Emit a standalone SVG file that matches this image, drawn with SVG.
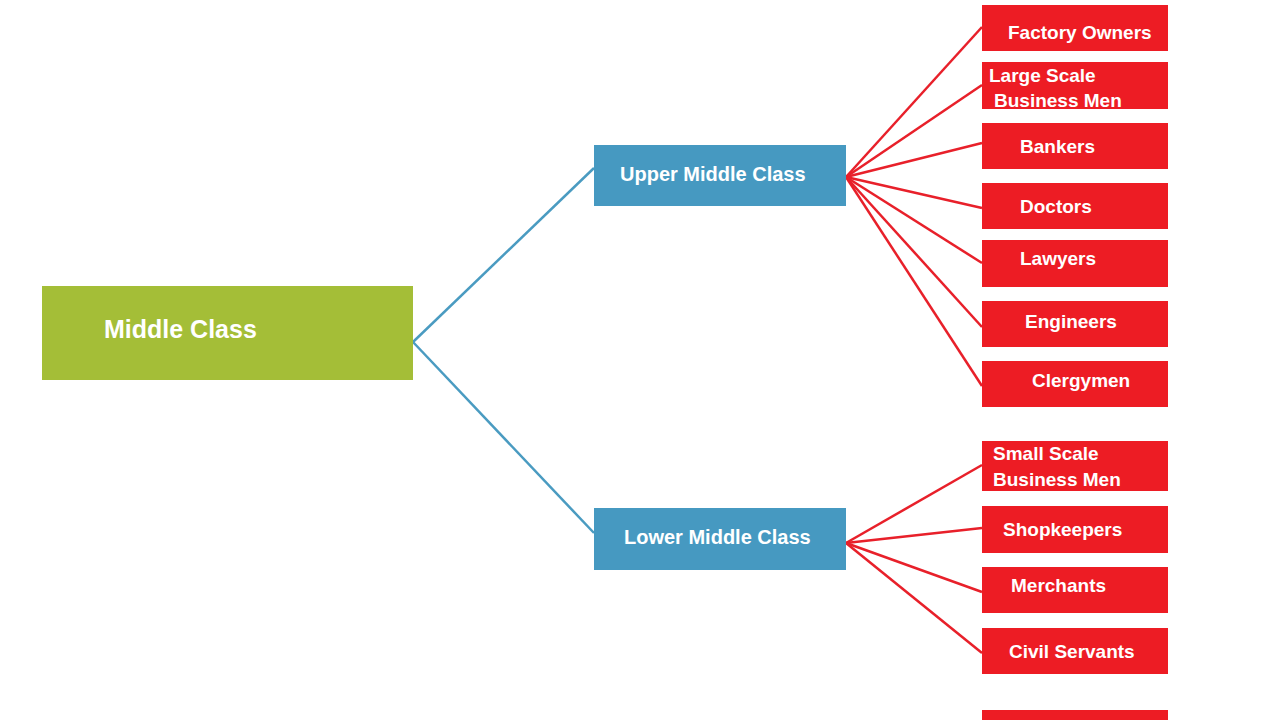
<svg xmlns="http://www.w3.org/2000/svg" width="1280" height="720" viewBox="0 0 1280 720">
<style>
.t{font-family:"Liberation Sans",Arial,sans-serif;font-weight:bold;fill:#ffffff}
.leaf{fill:#ED1C24}
.leaf-t{font-size:19px}
.mid{fill:#4699C1}
.mid-t{font-size:20px}
.blue{stroke:#4A9BC1;stroke-width:2.5;fill:none}
.red{stroke:#E8202A;stroke-width:2.5;fill:none}
</style>
<rect width="1280" height="720" fill="#ffffff"/>
<g id="connectors">
<line class="blue" x1="413" y1="342" x2="594" y2="168"/>
<line class="blue" x1="413" y1="342" x2="594" y2="533"/>
<line class="red" x1="846" y1="177" x2="982" y2="27"/>
<line class="red" x1="846" y1="177" x2="982" y2="85"/>
<line class="red" x1="846" y1="177" x2="982" y2="143"/>
<line class="red" x1="846" y1="177" x2="982" y2="208"/>
<line class="red" x1="846" y1="177" x2="982" y2="263"/>
<line class="red" x1="846" y1="177" x2="982" y2="327"/>
<line class="red" x1="846" y1="177" x2="982" y2="386"/>
<line class="red" x1="846" y1="543" x2="982" y2="465"/>
<line class="red" x1="846" y1="543" x2="982" y2="528"/>
<line class="red" x1="846" y1="543" x2="982" y2="592"/>
<line class="red" x1="846" y1="543" x2="982" y2="653"/>
</g>
<g id="middle-class">
<rect x="42" y="286" width="371" height="94" fill="#A4BE37"/>
<text class="t" x="104" y="338" font-size="25">Middle Class</text>
</g>
<g id="upper-middle-class">
<rect class="mid" x="594" y="145" width="252" height="61"/>
<text class="t mid-t" x="620" y="181">Upper Middle Class</text>
</g>
<g id="lower-middle-class">
<rect class="mid" x="594" y="508" width="252" height="62"/>
<text class="t mid-t" x="624" y="544">Lower Middle Class</text>
</g>
<g id="factory-owners">
<rect class="leaf" x="982" y="5" width="186" height="46"/>
<text class="t leaf-t" x="1008" y="39">Factory Owners</text>
</g>
<g id="large-scale-business-men">
<rect class="leaf" x="982" y="62" width="186" height="47"/>
<text class="t leaf-t" x="989" y="82">Large Scale</text>
<text class="t leaf-t" x="994" y="107">Business Men</text>
</g>
<g id="bankers">
<rect class="leaf" x="982" y="123" width="186" height="46"/>
<text class="t leaf-t" x="1020" y="153">Bankers</text>
</g>
<g id="doctors">
<rect class="leaf" x="982" y="183" width="186" height="46"/>
<text class="t leaf-t" x="1020" y="213">Doctors</text>
</g>
<g id="lawyers">
<rect class="leaf" x="982" y="240" width="186" height="47"/>
<text class="t leaf-t" x="1020" y="265">Lawyers</text>
</g>
<g id="engineers">
<rect class="leaf" x="982" y="301" width="186" height="46"/>
<text class="t leaf-t" x="1025" y="328">Engineers</text>
</g>
<g id="clergymen">
<rect class="leaf" x="982" y="361" width="186" height="46"/>
<text class="t leaf-t" x="1032" y="387">Clergymen</text>
</g>
<g id="small-scale-business-men">
<rect class="leaf" x="982" y="441" width="186" height="50"/>
<text class="t leaf-t" x="993" y="460">Small Scale</text>
<text class="t leaf-t" x="993" y="486">Business Men</text>
</g>
<g id="shopkeepers">
<rect class="leaf" x="982" y="506" width="186" height="47"/>
<text class="t leaf-t" x="1003" y="536">Shopkeepers</text>
</g>
<g id="merchants">
<rect class="leaf" x="982" y="567" width="186" height="46"/>
<text class="t leaf-t" x="1011" y="592">Merchants</text>
</g>
<g id="civil-servants">
<rect class="leaf" x="982" y="628" width="186" height="46"/>
<text class="t leaf-t" x="1009" y="658">Civil Servants</text>
</g>
<g id="partial-box">
<rect class="leaf" x="982" y="710" width="186" height="10"/>
</g>
</svg>
